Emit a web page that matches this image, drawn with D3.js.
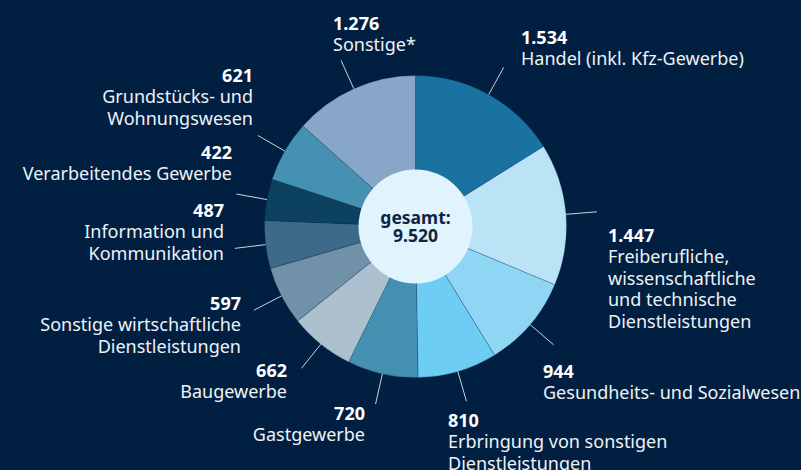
<!DOCTYPE html>
<html>
<head>
<meta charset="utf-8">
<script src="https://cdn.jsdelivr.net/npm/d3@7"></script>
<style>
  html, body { margin: 0; padding: 0; background: #011f41; }
  svg { display: block; font-family: "Noto Sans", sans-serif; }
</style>
</head>
<body>
<svg id="chart" width="801" height="470"></svg>
<script>
// values (clockwise from 12 o'clock)
const categories = [
  "Handel (inkl. Kfz-Gewerbe)",
  "Freiberufliche,\nwissenschaftliche\nund technische\nDienstleistungen",
  "Gesundheits- und Sozialwesen",
  "Erbringung von sonstigen\nDienstleistungen",
  "Gastgewerbe",
  "Baugewerbe",
  "Sonstige wirtschaftliche\nDienstleistungen",
  "Information und\nKommunikation",
  "Verarbeitendes Gewerbe",
  "Grundstücks- und\nWohnungswesen",
  "Sonstige*"
];
const values = [1534, 1447, 944, 810, 720, 662, 597, 487, 422, 621, 1276];
const colors = ["#1a72a0", "#bae3f6", "#8fd6f4", "#6dcdf3", "#4490b0", "#adc0cf",
                "#7191a9", "#3d6a89", "#0c4260", "#4591b1", "#88a6c8"];
const totalLabel = ["gesamt:", "9.520"];

// label anchors (x, baseline of the value line, text-anchor)
const labelPos = [
  [521, 44, "start"], [608, 242, "start"], [543, 378, "start"], [448, 427, "start"],
  [365, 420, "end"], [287, 377, "end"], [241, 310, "end"], [224, 217, "end"],
  [232, 159, "end"], [253, 82, "end"], [333, 30, "start"]
];

const cx = 415.5, cy = 226.5;
const outerR = 151, innerR = 57, leadR = 182;
const lineH = 21.4;

const svg = d3.select("#chart");
const fmt = d3.formatLocale({ decimal: ",", thousands: ".", grouping: [3], currency: ["", "€"] }).format(",");

const pie = d3.pie().sort(null).value(d => d)(values);
const arc = d3.arc().innerRadius(0).outerRadius(outerR);

const g = svg.append("g").attr("transform", `translate(${cx},${cy})`);

g.selectAll("path.slice")
  .data(pie)
  .join("path")
  .attr("class", "slice")
  .attr("d", arc)
  .attr("fill", (d, i) => colors[i])
  .attr("stroke", "rgba(1,31,65,0.35)")
  .attr("stroke-width", 0.6);

// leader lines, radial from the slice middle
g.selectAll("line.lead")
  .data(pie)
  .join("line")
  .attr("class", "lead")
  .each(function(d) {
    const a = (d.startAngle + d.endAngle) / 2;
    d3.select(this)
      .attr("x1", Math.sin(a) * outerR).attr("y1", -Math.cos(a) * outerR)
      .attr("x2", Math.sin(a) * leadR).attr("y2", -Math.cos(a) * leadR);
  })
  .attr("stroke", "#c9d2de")
  .attr("stroke-width", 1);

// centre
g.append("circle").attr("r", innerR).attr("fill", "#e1f3fd");
const tot = g.append("text")
  .attr("text-anchor", "middle")
  .attr("fill", "#0e2444")
  .attr("font-weight", 700)
  .attr("font-size", 17.5);
totalLabel.forEach((s, i) => {
  tot.append("tspan").attr("x", 0).attr("y", -3 + i * 18.5).text(s);
});

// labels
const labels = svg.selectAll("text.lbl")
  .data(pie)
  .join("text")
  .attr("class", "lbl")
  .attr("text-anchor", (d, i) => labelPos[i][2])
  .attr("font-size", 18)
  .attr("fill", "#eef2f7");

labels.each(function(d, i) {
  const t = d3.select(this);
  const [x, y] = labelPos[i];
  t.append("tspan").attr("x", x).attr("y", y)
    .attr("font-weight", 700).attr("fill", "#ffffff")
    .text(fmt(values[i]));
  categories[i].split("\n").forEach((ln, k) => {
    t.append("tspan").attr("x", x).attr("y", y + (k + 1) * lineH).text(ln);
  });
});
</script>
</body>
</html>
